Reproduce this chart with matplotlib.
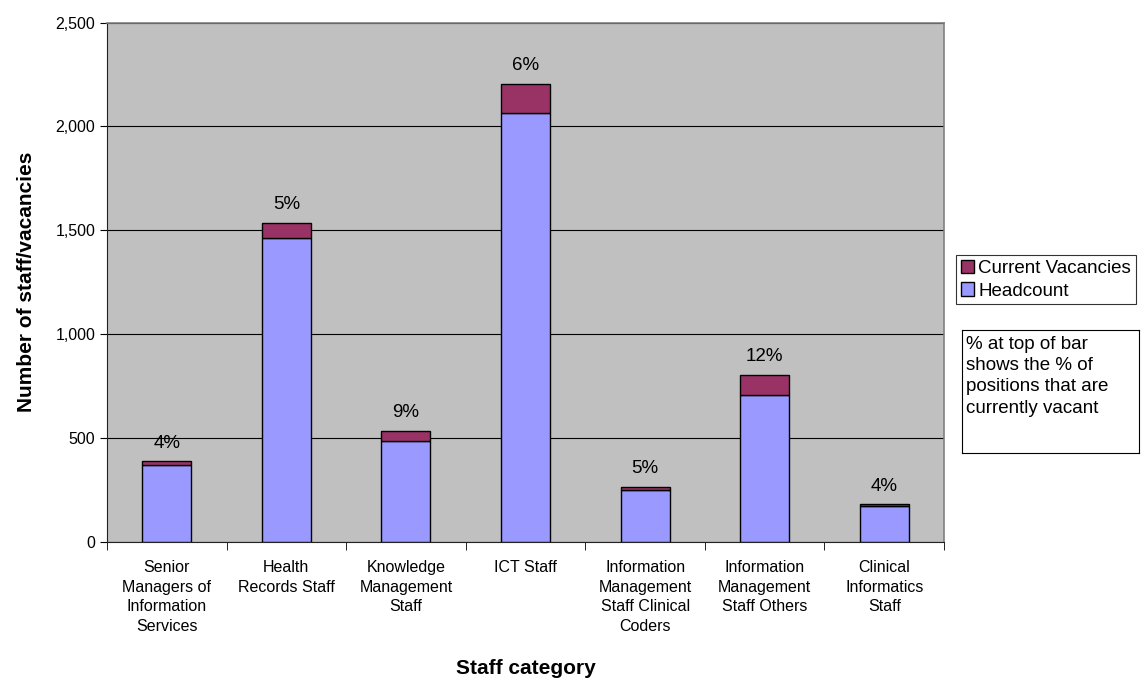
import numpy as np
import matplotlib.pyplot as plt
from matplotlib.ticker import FuncFormatter, FixedLocator

# Staff numbers per category
categories = [
    "Senior\nManagers of\nInformation\nServices",
    "Health\nRecords Staff",
    "Knowledge\nManagement\nStaff",
    "ICT Staff",
    "Information\nManagement\nStaff Clinical\nCoders",
    "Information\nManagement\nStaff Others",
    "Clinical\nInformatics\nStaff",
]
headcount = [372, 1462, 487, 2065, 252, 707, 174]
vacancies = [16, 73, 48, 140, 14, 96, 7]

HEAD_COLOR = "#9999FF"
VAC_COLOR = "#993366"

plt.rcParams["font.family"] = ["Liberation Sans", "DejaVu Sans"]

W, H = 1146, 680
fig = plt.figure(figsize=(W / 100, H / 100), dpi=100)
ax = fig.add_axes([107 / W, 1 - 542 / H, (944 - 107) / W, (542 - 22.5) / H])
ax.set_facecolor("#C0C0C0")

x = np.arange(len(categories))
ax.bar(x, headcount, width=0.41, color=HEAD_COLOR, edgecolor="black",
       linewidth=1.0, label="Headcount", zorder=3)
ax.bar(x, vacancies, width=0.41, bottom=headcount, color=VAC_COLOR,
       edgecolor="black", linewidth=1.0, label="Current Vacancies", zorder=3)

# vacancy rate above each bar
for xi, h, v in zip(x, headcount, vacancies):
    total = h + v
    ax.annotate(f"{round(100 * v / total)}%", (xi, total),
                xytext=(0, 7), textcoords="offset points",
                ha="center", va="bottom", fontsize=13.5)

ax.set_xlim(-0.5, len(categories) - 0.5)
ax.set_ylim(0, 2500)
ax.set_yticks(range(0, 2501, 500))
ax.yaxis.set_major_formatter(FuncFormatter(lambda v, p: f"{int(v):,}"))
ax.grid(axis="y", color="black", linewidth=0.8, zorder=1)

ax.set_xticks(x)
ax.set_xticklabels(categories, fontsize=11.5, linespacing=1.38)
ax.tick_params(axis="x", which="major", length=0, pad=13)
ax.xaxis.set_minor_locator(FixedLocator(np.arange(-0.5, len(categories), 1.0)))
ax.tick_params(axis="x", which="minor", length=6, direction="out")
ax.tick_params(axis="y", labelsize=11.5, length=5, direction="out")

for side in ("top", "right"):
    ax.spines[side].set_color("#808080")
    ax.spines[side].set_linewidth(1.2)
for side in ("left", "bottom"):
    ax.spines[side].set_color("#222222")

ax.set_xlabel("Staff category", fontsize=15, fontweight="bold", labelpad=18)
ax.set_ylabel("Number of staff/vacancies", fontsize=15, fontweight="bold",
              labelpad=14)

handles, labels = ax.get_legend_handles_labels()
leg = fig.legend(handles[::-1], labels[::-1], loc="upper left",
                 bbox_to_anchor=(956 / W, 1 - 255 / H), fontsize=13.5,
                 frameon=True, fancybox=False, edgecolor="black",
                 handlelength=0.7, handleheight=0.7, handletextpad=0.25,
                 borderpad=0.25, labelspacing=0.3, borderaxespad=0)
leg.get_frame().set_linewidth(0.8)

# explanatory note box
note_ax = fig.add_axes([962 / W, 1 - 453 / H, (1139 - 962) / W, (453 - 330) / H])
note_ax.set_xticks([])
note_ax.set_yticks([])
for s in note_ax.spines.values():
    s.set_linewidth(0.8)
note_ax.text(0.02, 0.95,
             "% at top of bar\nshows the % of\npositions that are\ncurrently vacant",
             ha="left", va="top", fontsize=13.5, linespacing=1.32,
             transform=note_ax.transAxes)

fig.savefig("out.png", dpi=100)
